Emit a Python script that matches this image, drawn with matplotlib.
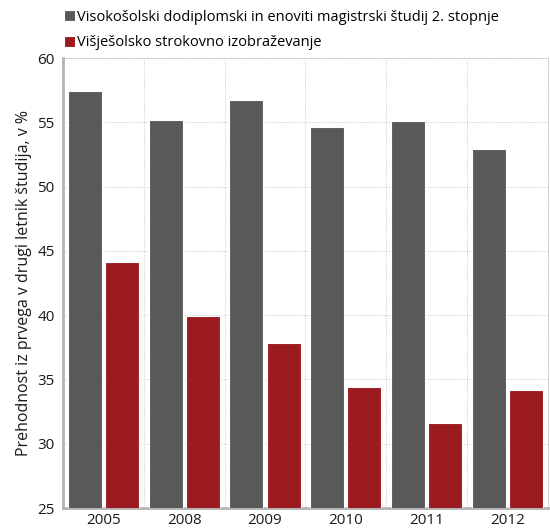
import matplotlib.pyplot as plt
import numpy as np
from matplotlib.ticker import FixedLocator

years = ["2005", "2008", "2009", "2010", "2011", "2012"]
univerzitetni = [57.4, 55.2, 56.7, 54.6, 55.1, 52.9]
visjesolski = [44.1, 39.9, 37.8, 34.4, 31.6, 34.2]
labels = [
    "Visokošolski dodiplomski in enoviti magistrski študij 2. stopnje",
    "Višješolsko strokovno izobraževanje",
]

plt.rcParams["font.family"] = ["Open Sans", "DejaVu Sans"]

fig = plt.figure(figsize=(5.5, 5.3), dpi=100)
ax = fig.add_axes([0.1145, 0.0415, 0.8815, 0.849])

x = np.arange(len(years))
w = 0.42
ax.bar(x - 0.23, univerzitetni, w, color="#595959", edgecolor="white", linewidth=0.8, label=labels[0], zorder=3)
ax.bar(x + 0.23, visjesolski, w, color="#9b1b20", edgecolor="white", linewidth=0.8, label=labels[1], zorder=3)

ax.set_xlim(-0.5, len(years) - 0.5)
ax.set_ylim(25, 60)
ax.set_yticks(np.arange(25, 61, 5))
ax.set_xticks(x)
ax.set_xticklabels(years)
ax.xaxis.set_minor_locator(FixedLocator(np.arange(0.5, len(years), 1)))
ax.tick_params(axis="both", length=0, labelsize=11, colors="#1a1a1a")
ax.tick_params(axis="x", which="minor", length=0)
ax.tick_params(axis="y", pad=6)
ax.grid(axis="y", which="major", color="#c8c8c8", linestyle=(0, (1, 1.5)), linewidth=0.7, zorder=0)
ax.grid(axis="x", which="minor", color="#c8c8c8", linestyle=(0, (1, 1.5)), linewidth=0.7, zorder=0)

for side in ["top", "right"]:
    ax.spines[side].set_color("#c8c8c8")
    ax.spines[side].set_linestyle((0, (1, 1.5)))
    ax.spines[side].set_linewidth(0.7)
for side in ["left", "bottom"]:
    ax.spines[side].set_color("#b3b3b3")
    ax.spines[side].set_linewidth(2)

ax.set_ylabel("Prehodnost iz prvega v drugi letnik študija, v %", fontsize=11.5, color="#1a1a1a", labelpad=4)

fig.legend(loc="upper left", bbox_to_anchor=(0.105, 0.993), frameon=False, fontsize=10.5,
           handlelength=0.75, handleheight=0.75, handletextpad=0.2, labelspacing=0.75,
           borderaxespad=0.0)

fig.savefig("out.png", dpi=100)
